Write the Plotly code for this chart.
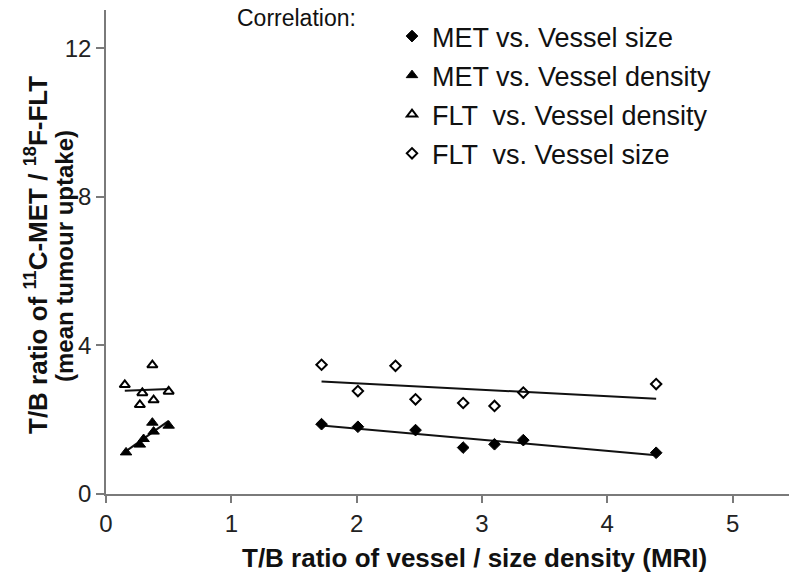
import numpy as np
import plotly.graph_objects as go

# ---- data ----
met_size_x = [1.72, 2.01, 2.47, 2.85, 3.10, 3.33, 4.39]
met_size_y = [1.88, 1.81, 1.72, 1.25, 1.34, 1.45, 1.11]

met_dens_x = [0.16, 0.27, 0.30, 0.37, 0.38, 0.50]
met_dens_y = [1.12, 1.33, 1.48, 1.92, 1.68, 1.84]

flt_dens_x = [0.15, 0.27, 0.29, 0.37, 0.38, 0.50]
flt_dens_y = [2.94, 2.40, 2.72, 3.47, 2.53, 2.76]

flt_size_x = [1.72, 2.01, 2.31, 2.47, 2.85, 3.10, 3.33, 4.39]
flt_size_y = [3.48, 2.77, 3.45, 2.55, 2.45, 2.37, 2.73, 2.96]

series_names = ["MET vs. Vessel size", "MET vs. Vessel density",
                "FLT  vs. Vessel density", "FLT  vs. Vessel size"]
x_ticks = [0, 1, 2, 3, 4, 5]
y_ticks = [0, 4, 8, 12]

# ---- layout constants ----
W, H = 789, 581
ML, MR, MT, MB = 106, 0, 10, 87
PW, PH = W - ML - MR, H - MT - MB
XMAX, YMAX = 5.45, 13.03

def px2paper_x(px):
    return (px - ML) / PW

def px2paper_y(py):
    return (H - MB - py) / PH

fig = go.Figure()

def trend(xs, ys):
    k, b = np.polyfit(xs, ys, 1)
    xx = np.array([min(xs), max(xs)])
    return xx, k * xx + b

specs = [
    (met_size_x, met_size_y, series_names[0],
     dict(symbol="diamond", size=9, color="black", line=dict(color="black", width=1))),
    (met_dens_x, met_dens_y, series_names[1],
     dict(symbol="triangle-up", size=10, color="black", line=dict(color="black", width=1))),
    (flt_dens_x, flt_dens_y, series_names[2],
     dict(symbol="triangle-up-open", size=9, color="black", line=dict(color="black", width=2))),
    (flt_size_x, flt_size_y, series_names[3],
     dict(symbol="diamond-open", size=8, color="black", line=dict(color="black", width=2))),
]

# trend lines first (under markers)
for xs, ys, name, mk in specs:
    tx, ty = trend(xs, ys)
    fig.add_trace(go.Scatter(x=tx, y=ty, mode="lines",
                             line=dict(color="#111", width=2),
                             showlegend=False, hoverinfo="skip"))

for i, (xs, ys, name, mk) in enumerate(specs):
    fig.add_trace(go.Scatter(x=xs, y=ys, mode="markers", name=name,
                             marker=mk, legendgroup=f"g{i}"))

base_family = "Liberation Sans, Arial, sans-serif"
tick_font = dict(family=base_family, size=24, color="#222")
axis_col = "#7a7a7a"

fig.update_layout(
    width=W, height=H,
    margin=dict(l=ML, r=MR, t=MT, b=MB, pad=0),
    paper_bgcolor="white", plot_bgcolor="white",
    showlegend=True,
    legend=dict(
        x=px2paper_x(392), y=px2paper_y(12), xanchor="left", yanchor="top",
        font=dict(family=base_family, size=27, color="#111"),
        bgcolor="rgba(0,0,0,0)", borderwidth=0,
        traceorder="grouped", tracegroupgap=1, itemwidth=30,
    ),
    xaxis=dict(range=[0, XMAX], tickvals=x_ticks, ticktext=[str(v) for v in x_ticks],
               showgrid=False, zeroline=False, showline=True, linecolor=axis_col,
               linewidth=1.5, ticks="outside", ticklen=7, tickcolor=axis_col,
               tickwidth=1.5, tickfont=tick_font),
    yaxis=dict(range=[0, YMAX], tickvals=y_ticks, ticktext=[str(v) for v in y_ticks],
               showgrid=False, zeroline=False, showline=True, linecolor=axis_col,
               linewidth=1.5, ticks="outside", ticklen=8, tickcolor=axis_col,
               tickwidth=1.5, tickfont=tick_font),
)

title_family = base_family

fig.add_annotation(
    text="<b>T/B ratio of vessel / size density (MRI)</b>",
    xref="paper", yref="paper", x=px2paper_x(474), y=px2paper_y(558),
    xanchor="center", yanchor="middle", showarrow=False,
    font=dict(family=title_family, size=26, color="#111"))

fig.add_annotation(
    text="<b>T/B ratio of <sup>11</sup>C-MET / <sup>18</sup>F-FLT</b>",
    xref="paper", yref="paper", x=px2paper_x(36), y=px2paper_y(255),
    xanchor="center", yanchor="middle", textangle=-90, showarrow=False,
    font=dict(family=title_family, size=26, color="#111"))

fig.add_annotation(
    text="<b>(mean tumour uptake)</b>",
    xref="paper", yref="paper", x=px2paper_x(64), y=px2paper_y(256),
    xanchor="center", yanchor="middle", textangle=-90, showarrow=False,
    font=dict(family=title_family, size=24, color="#111"))

fig.add_annotation(
    text="Correlation:",
    xref="paper", yref="paper", x=px2paper_x(235), y=px2paper_y(18),
    xanchor="left", yanchor="middle", showarrow=False,
    font=dict(family=base_family, size=23, color="#111"))

fig.write_html("out.html")
